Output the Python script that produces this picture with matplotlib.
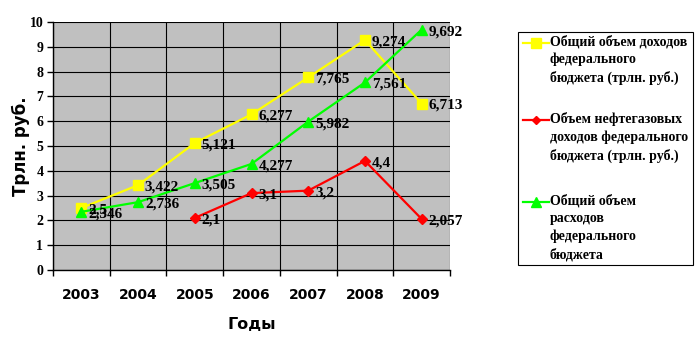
import numpy as np
import matplotlib
matplotlib.use("Agg")
import matplotlib.pyplot as plt
from matplotlib.lines import Line2D
from matplotlib.patches import Rectangle

# --- data (трлн. руб.) ---
years = ["2003", "2004", "2005", "2006", "2007", "2008", "2009"]
income = [2.5, 3.422, 5.121, 6.277, 7.765, 9.274, 6.713]
oilgas = [None, None, 2.1, 3.1, 3.2, 4.4, 2.057]
spend = [2.346, 2.736, 3.505, 4.277, 5.982, 7.561, 9.692]

income_lbl = ["2,5", "3,422", "5,121", "6,277", "7,765", "9,274", "6,713"]
oilgas_lbl = ["", "", "2,1", "3,1", "3,2", "4,4", "2,057"]
spend_lbl = ["2,346", "2,736", "3,505", "4,277", "5,982", "7,561", "9,692"]

leg_labels = ["Общий объем доходов\nфедерального\nбюджета (трлн. руб.)",
              "Объем нефтегазовых\nдоходов федерального\nбюджета (трлн. руб.)",
              "Общий объем\nрасходов\nфедерального\nбюджета"]

serif = "Liberation Serif"
sans = "DejaVu Sans"

fig = plt.figure(figsize=(7.0, 3.48), dpi=100)
ax = fig.add_axes([53 / 700, 78 / 348, 397 / 700, 248 / 348])
ax.set_facecolor("#c0c0c0")

x = np.arange(len(years))
series = [
    (income, income_lbl, "#ffff00", "s", 7.5),
    (oilgas, oilgas_lbl, "#ff0000", "D", 5),
    (spend, spend_lbl, "#00ff00", "^", 7.5),
]
for vals, lbls, col, mk, ms in series:
    xs = [i for i, v in zip(x, vals) if v is not None]
    ys = [v for v in vals if v is not None]
    ax.plot(xs, ys, color=col, lw=1.6, marker=mk, ms=ms, mec=col, mfc=col, zorder=3)
    for xi, v, t in zip(x, vals, lbls):
        if v is None:
            continue
        ax.text(xi + 0.12, v - 0.08, t, fontsize=11, fontweight="bold",
                family=serif, ha="left", va="center", zorder=4)

ax.set_xlim(-0.5, 6.5)
ax.set_ylim(0, 10)
ax.set_yticks(range(0, 11))
ax.set_xticks(x)
ax.set_xticklabels(years, fontsize=10, fontweight="bold", family=sans)
ax.set_xticks(np.arange(-0.5, 7, 1), minor=True)
ax.tick_params(axis="x", which="major", length=0, pad=13)
ax.tick_params(axis="x", which="minor", length=4, direction="out", width=1)
ax.tick_params(axis="y", length=4, width=1, pad=3)
for t in ax.get_yticklabels():
    t.set_family(serif)
    t.set_fontweight("bold")
    t.set_fontsize(10)
ax.grid(True, axis="y", color="black", lw=0.8)
ax.grid(True, axis="x", which="minor", color="black", lw=0.8)
ax.set_axisbelow(True)
for s in ["top", "right"]:
    ax.spines[s].set_visible(False)
ax.spines["left"].set_linewidth(1)
ax.spines["bottom"].set_linewidth(1)

ax.set_xlabel("Годы", fontsize=11.5, fontweight="bold", family=sans, labelpad=11)
ax.set_ylabel("Трлн. руб.", fontsize=12, fontweight="bold", family=sans, labelpad=0)

# legend box, drawn by hand so markers sit on the first text line
fig.patches.append(Rectangle((518 / 700, 1 - 265 / 348), 175 / 700, 233 / 348,
                             transform=fig.transFigure, fill=False, ec="black", lw=0.8))
leg_y = [43, 120, 202]
for (vals, lbls, col, mk, ms), lab, yy in zip(series, leg_labels, leg_y):
    fy = 1 - yy / 348
    fig.lines.append(Line2D([523 / 700, 549 / 700], [fy, fy], color=col, lw=1.6,
                            transform=fig.transFigure))
    fig.lines.append(Line2D([536 / 700], [fy], color=col, marker=mk, ms=ms - 1,
                            transform=fig.transFigure))
    fig.text(550 / 700, fy + 0.024, lab, fontsize=10, fontweight="bold", family=serif,
             ha="left", va="top", linespacing=1.45)

fig.savefig("out.png", dpi=100)
